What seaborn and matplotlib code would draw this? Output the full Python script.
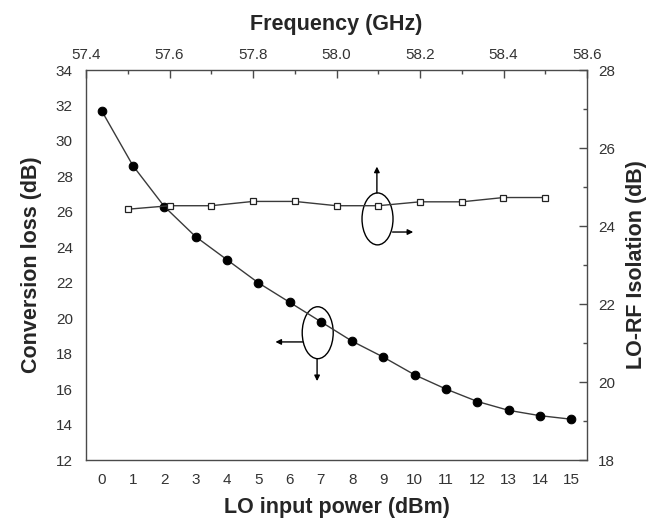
"""
Conversion loss vs LO power, with LO-RF isolation vs frequency on twin axes.
"""

import matplotlib.pyplot as plt
import seaborn as sns
import numpy as np
from matplotlib.patches import Ellipse
from matplotlib.ticker import MultipleLocator

# conversion loss (dB) vs LO input power (dBm)
lo_power = [0, 1, 2, 3, 4, 5, 6, 7, 8, 9, 10, 11, 12, 13, 14, 15]
conv_loss = [31.7, 28.6, 26.3, 24.6, 23.3, 22.0, 20.9, 19.8, 18.7, 17.8,
             16.8, 16.0, 15.3, 14.8, 14.5, 14.3]

# LO-RF isolation (dB) vs frequency (GHz)
freq = [57.5, 57.6, 57.7, 57.8, 57.9, 58.0, 58.1, 58.2, 58.3, 58.4, 58.5]
isolation = [24.43, 24.52, 24.52, 24.63, 24.63, 24.52, 24.52, 24.62, 24.62,
             24.73, 24.73]

sns.set_style("white")
plt.rcParams['font.family'] = ['Liberation Sans', 'DejaVu Sans']
text_col = '#333333'
plt.rcParams['text.color'] = text_col
plt.rcParams['axes.edgecolor'] = '#4a4a4a'
plt.rcParams['xtick.color'] = '#4a4a4a'
plt.rcParams['ytick.color'] = '#4a4a4a'
plt.rcParams['xtick.labelcolor'] = text_col
plt.rcParams['ytick.labelcolor'] = text_col

fig = plt.figure(figsize=(6.53, 5.22), dpi=100)
pos = [86 / 653, 62 / 522, 501 / 653, 390 / 522]
ax = fig.add_axes(pos)

sns.lineplot(x=lo_power, y=conv_loss, ax=ax, color='#3a3a3a', linewidth=1,
             marker='o', markersize=6.2, markerfacecolor='black',
             markeredgecolor='black')
ax.set_xlim(-0.5, 15.5)
ax.set_ylim(12, 34)
ax.xaxis.set_major_locator(MultipleLocator(1))
ax.xaxis.set_minor_locator(MultipleLocator(0.5))
ax.yaxis.set_major_locator(MultipleLocator(2))
ax.yaxis.set_minor_locator(MultipleLocator(1))
ax.tick_params(which='both', direction='out', labelsize=11, width=1)
ax.tick_params(which='major', length=6)
ax.tick_params(which='minor', length=3)
ax.set_xlabel('LO input power (dBm)', fontsize=15.5, fontweight='bold', labelpad=7)
ax.set_ylabel('Conversion loss (dB)', fontsize=15.5, fontweight='bold', labelpad=10)
for s in ax.spines.values():
    s.set_linewidth(1)

# second axes: frequency on top, isolation on right
ax2 = fig.add_axes(pos, frameon=False)
sns.lineplot(x=freq, y=isolation, ax=ax2, color='#3a3a3a', linewidth=1,
             marker='s', markersize=4.5, markerfacecolor='white',
             markeredgecolor='#222222', markeredgewidth=0.9)
ax2.set_xlim(57.4, 58.6)
ax2.set_ylim(18, 28)
ax2.xaxis.tick_top()
ax2.yaxis.tick_right()
ax2.xaxis.set_label_position('top')
ax2.yaxis.set_label_position('right')
ax2.xaxis.set_major_locator(MultipleLocator(0.2))
ax2.xaxis.set_minor_locator(MultipleLocator(0.1))
ax2.yaxis.set_major_locator(MultipleLocator(2))
ax2.yaxis.set_minor_locator(MultipleLocator(1))
ax2.xaxis.set_major_formatter(plt.FormatStrFormatter('%.1f'))
ax2.tick_params(which='both', direction='in', labelsize=11, width=1)
ax2.tick_params(which='major', length=6)
ax2.tick_params(which='minor', length=3)
ax2.tick_params(axis='x', pad=6)
ax2.tick_params(axis='y', pad=8)
ax2.set_xlabel('Frequency (GHz)', fontsize=15.5, fontweight='bold', labelpad=13)
ax2.set_ylabel('LO-RF Isolation (dB)', fontsize=15.5, fontweight='bold', labelpad=8)

# ellipse markers pointing to the relevant axes
arrow = dict(arrowstyle='-|>', color='black', lw=1, mutation_scale=8,
             shrinkA=0, shrinkB=0)
ax.add_patch(Ellipse((6.9, 19.18), 0.99, 2.93, fill=False, lw=1, color='black'))
ax.annotate('', xy=(5.55, 18.66), xytext=(6.42, 18.66), arrowprops=arrow)
ax.annotate('', xy=(6.88, 16.45), xytext=(6.88, 17.72), arrowprops=arrow)

ax.add_patch(Ellipse((8.81, 25.6), 0.99, 2.93, fill=False, lw=1, color='black'))
ax.annotate('', xy=(8.79, 28.55), xytext=(8.79, 27.06), arrowprops=arrow)
ax.annotate('', xy=(9.95, 24.86), xytext=(9.29, 24.86), arrowprops=arrow)

plt.savefig('out.png', dpi=100)
plt.close()
